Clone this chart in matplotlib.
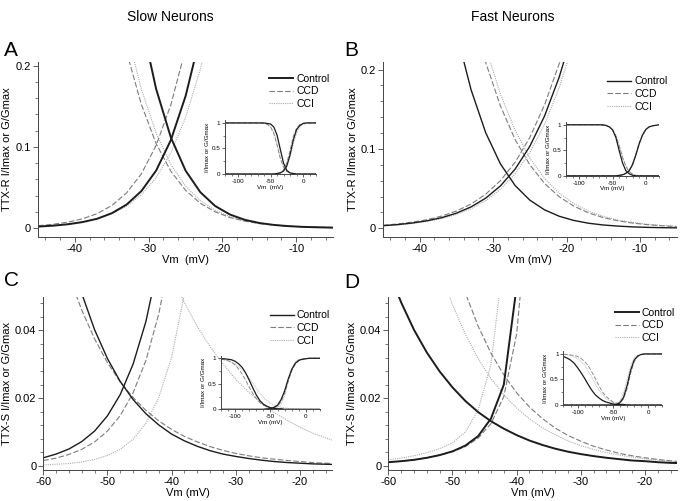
import matplotlib
matplotlib.use("Agg")
import matplotlib.pyplot as plt
from matplotlib.ticker import MultipleLocator

plt.rcParams['font.family'] = ['Liberation Sans', 'DejaVu Sans']
plt.rcParams['axes.unicode_minus'] = False

conditions = ['Control', 'CCD', 'CCI']

# ---- main panels, TTX-R (A: slow, B: fast) ----
vm_r = [-45, -43, -41, -39, -37, -35, -33, -31, -29, -27, -25, -23, -21,
        -19, -17, -15, -13, -11, -9, -7, -5]

a_act_ctl = [0.0018, 0.0029, 0.0046, 0.0073, 0.0114, 0.0183, 0.0289, 0.0455, 0.0707, 0.1083, 0.1626,
             0.2367, 0.331, 0.44, 0.558, 0.669, 0.763, 0.837, 0.892, 0.929, 0.954]
a_act_ccd = [0.0029, 0.0046, 0.0072, 0.0113, 0.0177, 0.0278, 0.0433, 0.0667, 0.1017, 0.1518, 0.2208,
             0.309, 0.415, 0.529, 0.64, 0.74, 0.82, 0.88, 0.92, 0.95, 0.97]
a_act_cci = [0.0020, 0.0032, 0.0049, 0.0075, 0.0115, 0.0176, 0.0269, 0.0410, 0.0620, 0.0926, 0.1362,
             0.1958, 0.273, 0.367, 0.473, 0.578, 0.68, 0.77, 0.84, 0.89, 0.92]
a_ina_ctl = [0.919, 0.873, 0.806, 0.716, 0.605, 0.481, 0.360, 0.2544, 0.1715, 0.1116, 0.0707,
             0.0441, 0.0272, 0.0167, 0.0102, 0.0062, 0.0038, 0.0023, 0.0014, 0.0009, 0.0005]
a_ina_ccd = [0.790, 0.709, 0.612, 0.505, 0.398, 0.300, 0.217, 0.1523, 0.1041, 0.0700, 0.0465,
             0.0305, 0.0200, 0.0130, 0.0085, 0.0055, 0.0036, 0.0023, 0.0015, 0.0010, 0.0006]
a_ina_cci = [0.822, 0.748, 0.656, 0.550, 0.439, 0.334, 0.2436, 0.1711, 0.1169, 0.0782, 0.0516,
             0.0337, 0.0219, 0.0141, 0.0091, 0.0059, 0.0038, 0.0024, 0.0016, 0.0010, 0.0006]

b_act_ctl = [0.0032, 0.0046, 0.0066, 0.0094, 0.0133, 0.0190, 0.0269, 0.0380, 0.0534, 0.0746, 0.1033,
             0.1414, 0.1906, 0.2518, 0.325, 0.407, 0.496, 0.584, 0.667, 0.742, 0.804]
b_act_ccd = [0.0038, 0.0054, 0.0077, 0.0108, 0.0153, 0.0217, 0.0305, 0.0430, 0.0600, 0.0832, 0.1145,
             0.1554, 0.2075, 0.271, 0.346, 0.430, 0.518, 0.604, 0.685, 0.756, 0.815]
b_act_cci = [0.0030, 0.0042, 0.0060, 0.0086, 0.0122, 0.0174, 0.0246, 0.0348, 0.0491, 0.0687, 0.0953,
             0.1309, 0.1772, 0.2353, 0.306, 0.386, 0.473, 0.562, 0.647, 0.724, 0.789]
b_ina_ctl = [0.745, 0.654, 0.549, 0.440, 0.337, 0.2468, 0.1745, 0.1202, 0.0810, 0.0538, 0.0354,
             0.0232, 0.0151, 0.0098, 0.0063, 0.0041, 0.0027, 0.0017, 0.0011, 0.0007, 0.0005]
b_ina_ccd = [0.779, 0.709, 0.627, 0.537, 0.445, 0.356, 0.276, 0.2087, 0.1540, 0.1117, 0.0799,
             0.0565, 0.0397, 0.0278, 0.0193, 0.0134, 0.0093, 0.0065, 0.0045, 0.0031, 0.0021]
b_ina_cci = [0.797, 0.731, 0.652, 0.564, 0.472, 0.382, 0.299, 0.2276, 0.1690, 0.1231, 0.0884,
             0.0627, 0.0442, 0.0309, 0.0215, 0.0150, 0.0104, 0.0072, 0.0050, 0.0035, 0.0024]

# ---- main panels, TTX-S (C: slow, D: fast) ----
vm_s = [-60, -58, -56, -54, -52, -50, -48, -46, -44, -42, -40, -38, -36, -34,
        -32, -30, -28, -26, -24, -22, -20, -18, -16, -14]

c_act_ctl = [0.0024, 0.0035, 0.0050, 0.0072, 0.0103, 0.0148, 0.0211, 0.0301, 0.0427, 0.0604, 0.0846, 0.117,
             0.160, 0.216, 0.284, 0.363, 0.45, 0.541, 0.629, 0.709, 0.778, 0.835, 0.879, 0.913]
c_act_ccd = [0.0016, 0.0023, 0.0034, 0.0049, 0.0071, 0.0103, 0.0149, 0.0216, 0.0312, 0.0449, 0.0642, 0.091,
             0.127, 0.176, 0.237, 0.312, 0.398, 0.49, 0.584, 0.672, 0.749, 0.813, 0.864, 0.903]
c_act_cci = [0.0003, 0.0005, 0.0007, 0.0012, 0.0019, 0.0031, 0.0049, 0.0079, 0.0126, 0.0202, 0.0321, 0.0508,
             0.0794, 0.122, 0.182, 0.264, 0.366, 0.482, 0.6, 0.707, 0.795, 0.862, 0.91, 0.942]
c_ina_ctl = [0.1011, 0.0808, 0.0642, 0.0509, 0.0402, 0.0317, 0.0249, 0.0196, 0.0154, 0.0121, 0.0094, 0.0074,
             0.0058, 0.0045, 0.0035, 0.0028, 0.0022, 0.0017, 0.0013, 0.0010, 0.0008, 0.0006, 0.0005, 0.0004]
c_ina_ccd = [0.0837, 0.0687, 0.0563, 0.0460, 0.0375, 0.0305, 0.0248, 0.0202, 0.0164, 0.0133, 0.0108, 0.0087,
             0.0071, 0.0057, 0.0046, 0.0037, 0.0030, 0.0024, 0.0020, 0.0016, 0.0013, 0.0010, 0.0008, 0.0007]
c_ina_cci = [0.235, 0.207, 0.181, 0.158, 0.138, 0.119, 0.103, 0.0888, 0.0764, 0.0656, 0.0563, 0.0482,
             0.0412, 0.0352, 0.0301, 0.0256, 0.0218, 0.0186, 0.0158, 0.0135, 0.0114, 0.0097, 0.0083, 0.0070]

d_act_ctl = [0.0011, 0.0014, 0.0018, 0.0024, 0.0032, 0.0043, 0.0060, 0.0088, 0.0140, 0.0240, 0.053, 0.11,
             0.19, 0.29, 0.40, 0.52, 0.63, 0.73, 0.81, 0.87, 0.91, 0.94, 0.96, 0.97]
d_act_ccd = [0.0011, 0.0014, 0.0018, 0.0024, 0.0032, 0.0042, 0.0057, 0.0082, 0.0125, 0.0205, 0.039, 0.080,
             0.15, 0.24, 0.35, 0.47, 0.58, 0.69, 0.78, 0.85, 0.90, 0.93, 0.95, 0.97]
d_act_cci = [0.0018, 0.0023, 0.0030, 0.0039, 0.0051, 0.0068, 0.0100, 0.0165, 0.030, 0.062, 0.12, 0.20,
             0.30, 0.41, 0.53, 0.64, 0.74, 0.82, 0.88, 0.92, 0.95, 0.97, 0.98, 0.99]
d_ina_ctl = [0.0578, 0.0483, 0.0402, 0.0335, 0.0279, 0.0232, 0.0192, 0.0159, 0.0132, 0.0110, 0.0091, 0.0075,
             0.0062, 0.0051, 0.0042, 0.0035, 0.0029, 0.0024, 0.0020, 0.0016, 0.0014, 0.0011, 0.0009, 0.0008]
d_ina_ccd = [0.170, 0.1405, 0.1158, 0.0948, 0.0774, 0.0630, 0.0511, 0.0413, 0.0333, 0.0269, 0.0216, 0.0174,
             0.0140, 0.0112, 0.0090, 0.0073, 0.0058, 0.0047, 0.0037, 0.0030, 0.0024, 0.0019, 0.0015, 0.0012]
d_ina_cci = [0.126, 0.1046, 0.0863, 0.0710, 0.0583, 0.0476, 0.0389, 0.0317, 0.0258, 0.0210, 0.0171, 0.0139,
             0.0113, 0.0092, 0.0074, 0.0060, 0.0049, 0.0039, 0.0032, 0.0026, 0.0021, 0.0017, 0.0014, 0.0011]

# ---- insets: full curves ----
vm_in = [-120, -115, -110, -105, -100, -95, -90, -85, -80, -75, -70, -65, -60, -55, -50,
         -45, -40, -35, -30, -25, -20, -15, -10, -5, 0, 5, 10, 15, 20]

ia_act_ctl = [0, 0, 0, 0, 0, 0, 0, 0, 0, 0, 0, 0, 0, 0, 0, 0,
              0.01, 0.02, 0.06, 0.16, 0.38, 0.67, 0.87, 0.95, 0.99, 1, 1, 1, 1]
ia_act_ccd = [0, 0, 0, 0, 0, 0, 0, 0, 0, 0, 0, 0, 0, 0, 0, 0,
              0.01, 0.03, 0.08, 0.22, 0.47, 0.74, 0.90, 0.97, 0.99, 1, 1, 1, 1]
ia_act_cci = [0, 0, 0, 0, 0, 0, 0, 0, 0, 0, 0, 0, 0, 0, 0, 0,
              0.01, 0.02, 0.05, 0.14, 0.32, 0.58, 0.80, 0.92, 0.97, 0.99, 1, 1, 1]
ia_ina_ctl = [1, 1, 1, 1, 1, 1, 1, 1, 1, 1, 1, 1, 1, 0.99, 0.98, 0.92, 0.76, 0.48, 0.21,
              0.07, 0.02, 0.01, 0, 0, 0, 0, 0, 0, 0]
ia_ina_ccd = [1, 1, 1, 1, 1, 1, 1, 1, 1, 1, 1, 1, 0.99, 0.97, 0.92, 0.79, 0.56, 0.30, 0.13,
              0.05, 0.02, 0.01, 0, 0, 0, 0, 0, 0, 0]
ia_ina_cci = [1, 1, 1, 1, 1, 1, 1, 1, 1, 1, 1, 1, 0.99, 0.98, 0.93, 0.82, 0.60, 0.33, 0.14,
              0.05, 0.02, 0.01, 0, 0, 0, 0, 0, 0, 0]

ib_act_ctl = [0, 0, 0, 0, 0, 0, 0, 0, 0, 0, 0, 0, 0, 0, 0, 0,
              0.01, 0.02, 0.05, 0.10, 0.22, 0.41, 0.63, 0.80, 0.91, 0.96, 0.98, 0.99, 1.0]
ib_act_ccd = [0, 0, 0, 0, 0, 0, 0, 0, 0, 0, 0, 0, 0, 0, 0, 0,
              0.01, 0.02, 0.05, 0.11, 0.24, 0.43, 0.65, 0.81, 0.91, 0.96, 0.98, 0.99, 1.0]
ib_act_cci = [0, 0, 0, 0, 0, 0, 0, 0, 0, 0, 0, 0, 0, 0, 0, 0,
              0.01, 0.02, 0.04, 0.10, 0.20, 0.39, 0.61, 0.79, 0.90, 0.96, 0.98, 0.99, 1.0]
ib_ina_ctl = [1, 1, 1, 1, 1, 1, 1, 1, 1, 1, 1, 1, 0.99, 0.96, 0.90, 0.75, 0.49, 0.25, 0.10,
              0.04, 0.01, 0, 0, 0, 0, 0, 0, 0, 0]
ib_ina_ccd = [1, 1, 1, 1, 1, 1, 1, 1, 1, 1, 1, 0.99, 0.98, 0.96, 0.90, 0.78, 0.58, 0.36, 0.18,
              0.08, 0.03, 0.01, 0.01, 0, 0, 0, 0, 0, 0]
ib_ina_cci = [1, 1, 1, 1, 1, 1, 1, 1, 1, 1, 1, 0.99, 0.98, 0.96, 0.91, 0.80, 0.61, 0.38, 0.20,
              0.09, 0.04, 0.01, 0.01, 0, 0, 0, 0, 0, 0]

ic_act_ctl = [0, 0, 0, 0, 0, 0, 0, 0, 0, 0, 0, 0, 0, 0.01, 0.01, 0.04, 0.08, 0.19, 0.36,
              0.59, 0.78, 0.90, 0.96, 0.98, 0.99, 1, 1, 1, 1]
ic_act_ccd = [0, 0, 0, 0, 0, 0, 0, 0, 0, 0, 0, 0, 0, 0, 0.01, 0.03, 0.06, 0.15, 0.31,
              0.54, 0.75, 0.88, 0.95, 0.98, 0.99, 1, 1, 1, 1]
ic_act_cci = [0, 0, 0, 0, 0, 0, 0, 0, 0, 0, 0, 0, 0, 0, 0, 0.01, 0.03, 0.10, 0.26,
              0.54, 0.80, 0.93, 0.98, 0.99, 1, 1, 1, 1, 1]
ic_ina_ctl = [0.99, 0.99, 0.98, 0.97, 0.94, 0.89, 0.82, 0.71, 0.57, 0.42, 0.28, 0.17, 0.10, 0.06,
              0.03, 0.02, 0.01, 0.01, 0, 0, 0, 0, 0, 0, 0, 0, 0, 0, 0]
ic_ina_ccd = [0.98, 0.97, 0.95, 0.92, 0.87, 0.79, 0.69, 0.57, 0.43, 0.31, 0.21, 0.13, 0.08, 0.05,
              0.03, 0.02, 0.01, 0.01, 0, 0, 0, 0, 0, 0, 0, 0, 0, 0, 0]
ic_ina_cci = [0.98, 0.97, 0.95, 0.92, 0.89, 0.84, 0.78, 0.70, 0.61, 0.51, 0.41, 0.32, 0.24, 0.17,
              0.12, 0.08, 0.06, 0.04, 0.03, 0.02, 0.01, 0.01, 0.01, 0, 0, 0, 0, 0, 0]

id_act_ctl = [0, 0, 0, 0, 0, 0, 0, 0, 0, 0, 0, 0, 0, 0, 0, 0.01, 0.05, 0.15, 0.38,
              0.68, 0.88, 0.96, 0.99, 1, 1, 1, 1, 1, 1]
id_act_ccd = [0, 0, 0, 0, 0, 0, 0, 0, 0, 0, 0, 0, 0, 0, 0, 0.01, 0.04, 0.12, 0.32,
              0.62, 0.85, 0.95, 0.99, 1, 1, 1, 1, 1, 1]
id_act_cci = [0, 0, 0, 0, 0, 0, 0, 0, 0, 0, 0, 0, 0, 0, 0.01, 0.03, 0.08, 0.23, 0.50,
              0.77, 0.92, 0.97, 0.99, 1, 1, 1, 1, 1, 1]
id_ina_ctl = [0.95, 0.92, 0.88, 0.82, 0.73, 0.63, 0.52, 0.40, 0.29, 0.20, 0.14, 0.09, 0.06, 0.04,
              0.02, 0.01, 0.01, 0.01, 0, 0, 0, 0, 0, 0, 0, 0, 0, 0, 0]
id_ina_ccd = [0.99, 0.99, 0.98, 0.97, 0.95, 0.91, 0.85, 0.77, 0.65, 0.52, 0.38, 0.26, 0.17, 0.11,
              0.06, 0.04, 0.02, 0.01, 0.01, 0, 0, 0, 0, 0, 0, 0, 0, 0, 0]
id_ina_cci = [0.99, 0.98, 0.97, 0.94, 0.91, 0.85, 0.78, 0.67, 0.55, 0.41, 0.29, 0.20, 0.13, 0.08,
              0.05, 0.03, 0.02, 0.01, 0.01, 0, 0, 0, 0, 0, 0, 0, 0, 0, 0]

styles = {
    'Control': dict(color='#1c1c1c', ls='-'),
    'CCD': dict(color='#7c7c7c', ls=(0, (5, 2))),
    'CCI': dict(color='#ababab', ls=(0, (1, 1))),
}
axcol = '#444444'

fig = plt.figure(figsize=(6.85, 5.01), dpi=100)


def style_axes(ax, lab_size, major_len, minor_len):
    for s in ['top', 'right']:
        ax.spines[s].set_visible(False)
    for s in ['left', 'bottom']:
        ax.spines[s].set_color(axcol)
        ax.spines[s].set_linewidth(0.7)
    ax.tick_params(which='major', direction='out', length=major_len, width=0.6,
                   color=axcol, labelsize=lab_size, pad=1.5)
    ax.tick_params(which='minor', direction='out', length=minor_len, width=0.5, color=axcol)
    ax.patch.set_alpha(0)


def main_panel(rect, vm, curves, xlim, ylim, yticks, yticklabels, yminor, ylab, xlab,
               ylab_x, leg_anchor, lw_ctl):
    ax = fig.add_axes(rect)
    for cond in ['CCI', 'CCD', 'Control']:
        lw = lw_ctl if cond == 'Control' else 0.8
        act, ina = curves[cond]
        ax.plot(vm, act, lw=lw, **styles[cond])
        ax.plot(vm, ina, lw=lw, **styles[cond])
    ax.set_xlim(*xlim)
    ax.set_ylim(*ylim)
    ax.xaxis.set_major_locator(MultipleLocator(10))
    ax.xaxis.set_minor_locator(MultipleLocator(2))
    ax.set_yticks(yticks)
    ax.set_yticklabels(yticklabels)
    ax.yaxis.set_minor_locator(MultipleLocator(yminor))
    style_axes(ax, 8, 3.5, 2.2)
    ax.set_ylabel(ylab, fontsize=8)
    ax.yaxis.set_label_coords(ylab_x, 0.5)
    ax.set_xlabel(xlab, fontsize=8, labelpad=1)
    handles = [plt.Line2D([], [], lw=lw_ctl if c == 'Control' else 0.8, **styles[c]) for c in conditions]
    ax.legend(handles, conditions, loc='upper left', bbox_to_anchor=leg_anchor, frameon=False,
              fontsize=7.5, handlelength=2.3, handletextpad=0.3, labelspacing=0.25,
              borderaxespad=0)
    return ax


def inset_panel(rect, curves, xlab):
    ax = fig.add_axes(rect)
    for cond in ['CCI', 'CCD', 'Control']:
        act, ina = curves[cond]
        lw = 0.9 if cond == 'Control' else 0.6
        ax.plot(vm_in, act, lw=lw, **styles[cond])
        ax.plot(vm_in, ina, lw=lw, **styles[cond])
    ax.set_xlim(-120, 20)
    ax.set_ylim(0, 1.05)
    ax.set_xticks([-100, -50, 0])
    ax.xaxis.set_minor_locator(MultipleLocator(10))
    ax.set_yticks([0, 0.5, 1])
    ax.set_yticklabels(['0', '0.5', '1'])
    ax.yaxis.set_minor_locator(MultipleLocator(0.25))
    style_axes(ax, 4.5, 2, 1.2)
    ax.set_xlabel(xlab, fontsize=4.5, labelpad=0.5)
    ax.set_ylabel('I/Imax or G/Gmax', fontsize=4.5, labelpad=1)
    return ax


curves_a = {'Control': (a_act_ctl, a_ina_ctl), 'CCD': (a_act_ccd, a_ina_ccd), 'CCI': (a_act_cci, a_ina_cci)}
curves_b = {'Control': (b_act_ctl, b_ina_ctl), 'CCD': (b_act_ccd, b_ina_ccd), 'CCI': (b_act_cci, b_ina_cci)}
curves_c = {'Control': (c_act_ctl, c_ina_ctl), 'CCD': (c_act_ccd, c_ina_ccd), 'CCI': (c_act_cci, c_ina_cci)}
curves_d = {'Control': (d_act_ctl, d_ina_ctl), 'CCD': (d_act_ccd, d_ina_ccd), 'CCI': (d_act_cci, d_ina_cci)}

main_panel([0.0556, 0.527, 0.4307, 0.35], vm_r, curves_a, (-45, -5), (-0.011, 0.205),
           [0, 0.1, 0.2], ['0', '0.1', '0.2'], 0.02, 'TTX-R I/Imax or G/Gmax', 'Vm  (mV)',
           -0.088, (0.77, 0.955), 1.4)
main_panel([0.559, 0.527, 0.429, 0.35], vm_r, curves_b, (-45, -5), (-0.011, 0.21),
           [0, 0.1, 0.2], ['0', '0.1', '0.2'], 0.02, 'TTX-R I/Imax or G/Gmax', 'Vm (mV)',
           -0.085, (0.75, 0.94), 1.0)
main_panel([0.0632, 0.0619, 0.4215, 0.346], vm_s, curves_c, (-60, -15), (-0.0012, 0.05),
           [0, 0.02, 0.04], ['0', '0.02', '0.04'], 0.004, 'TTX-S I/Imax or G/Gmax', 'Vm (mV)',
           -0.108, (0.77, 0.945), 1.0)
main_panel([0.5669, 0.0619, 0.4215, 0.346], vm_s, curves_d, (-60, -15), (-0.0012, 0.05),
           [0, 0.02, 0.04], ['0', '0.02', '0.04'], 0.004, 'TTX-S I/Imax or G/Gmax', 'Vm (mV)',
           -0.108, (0.77, 0.96), 1.4)

ins_a = {'Control': (ia_act_ctl, ia_ina_ctl), 'CCD': (ia_act_ccd, ia_ina_ccd), 'CCI': (ia_act_cci, ia_ina_cci)}
ins_b = {'Control': (ib_act_ctl, ib_ina_ctl), 'CCD': (ib_act_ccd, ib_ina_ccd), 'CCI': (ib_act_cci, ib_ina_cci)}
ins_c = {'Control': (ic_act_ctl, ic_ina_ctl), 'CCD': (ic_act_ccd, ic_ina_ccd), 'CCI': (ic_act_cci, ic_ina_cci)}
ins_d = {'Control': (id_act_ctl, id_ina_ctl), 'CCD': (id_act_ccd, id_ina_ccd), 'CCI': (id_act_cci, id_ina_cci)}

inset_panel([0.3285, 0.6527, 0.133, 0.107], ins_a, 'Vm  (mV)')
inset_panel([0.8263, 0.649, 0.136, 0.107], ins_b, 'Vm (mV)')
inset_panel([0.3226, 0.183, 0.1445, 0.107], ins_c, 'Vm (mV)')
inset_panel([0.8226, 0.1916, 0.1445, 0.107], ins_d, 'Vm (mV)')

fig.text(170 / 685, 1 - 17 / 501, 'Slow Neurons', ha='center', va='center', fontsize=10)
fig.text(513 / 685, 1 - 17 / 501, 'Fast Neurons', ha='center', va='center', fontsize=10)
for letter, x, y in [('A', 4, 50), ('B', 344, 50), ('C', 4, 281), ('D', 344, 283)]:
    fig.text(x / 685, 1 - y / 501, letter, ha='left', va='center', fontsize=15)

fig.savefig('out.png', dpi=100)
